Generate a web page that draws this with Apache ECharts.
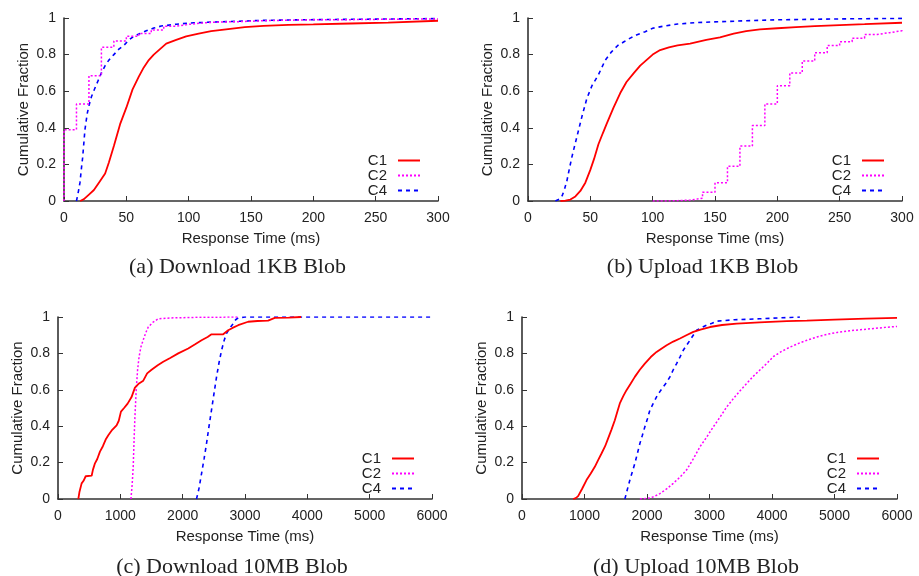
<!DOCTYPE html>
<html>
<head>
<meta charset="utf-8">
<script src="https://cdn.jsdelivr.net/npm/echarts@6/dist/echarts.min.js"></script>
<style>html,body{margin:0;padding:0;background:#fff}#c{width:919px;height:576px}</style>
</head>
<body>
<div id="c"></div>
<script>
// ---- Data (x = response time in ms, y = cumulative fraction) ----
const seriesNames = ['C1', 'C2', 'C4'];
const panelTitles = ['(a) Download 1KB Blob', '(b) Upload 1KB Blob', '(c) Download 10MB Blob', '(d) Upload 10MB Blob'];
const yTicks = [0, 0.2, 0.4, 0.6, 0.8, 1];
const xTicksSmall = [0, 50, 100, 150, 200, 250, 300];
const xTicksLarge = [0, 1000, 2000, 3000, 4000, 5000, 6000];

// (a) Download 1KB
const dl1kC1 = [[13,0],[16,0.01],[20,0.035],[24,0.06],[28,0.1],[33,0.15],[36,0.21],[40,0.3],[45,0.42],[50,0.51],[55,0.61],[60,0.68],[64,0.73],[68,0.77],[72,0.8],[77,0.83],[82,0.86],[90,0.88],[98,0.9],[108,0.915],[118,0.928],[130,0.938],[145,0.95],[160,0.957],[180,0.962],[200,0.965],[230,0.97],[260,0.975],[300,0.985]];
const dl1kC2 = [[0,0],[0,0.39],[10,0.53],[20,0.685],[30,0.84],[40,0.875],[50,0.9],[60,0.915],[70,0.935],[80,0.955],[90,0.965],[100,0.972],[110,0.977],[120,0.98],[140,0.985],[160,0.988],[180,0.99],[200,0.991],[230,0.993],[260,0.995],[300,0.997]];
const dl1kC4 = [[10,0],[11.5,0.05],[12.8,0.1],[14,0.18],[15,0.24],[16.8,0.39],[18.7,0.48],[20,0.52],[22,0.57],[25,0.62],[27.5,0.66],[30,0.7],[33,0.74],[36,0.77],[40,0.8],[44,0.83],[48,0.85],[52,0.88],[56,0.9],[61,0.915],[66,0.93],[72,0.945],[78,0.956],[90,0.966],[104,0.974],[130,0.98],[160,0.987],[200,0.991],[250,0.994],[300,0.997]];

// (b) Upload 1KB
const ul1kC1 = [[26,0],[30,0.002],[34,0.008],[38,0.025],[42,0.055],[46,0.1],[50,0.17],[53,0.23],[56.5,0.31],[60,0.37],[63,0.42],[68.6,0.51],[74,0.59],[79,0.65],[85,0.7],[90,0.74],[95,0.77],[100,0.8],[106,0.825],[113,0.84],[120,0.85],[130,0.86],[143,0.88],[154,0.894],[165,0.915],[175,0.928],[186,0.938],[200,0.944],[215,0.95],[230,0.956],[250,0.961],[270,0.966],[300,0.974]];
const ul1kC2 = [[100,0],[110,0.002],[120,0.005],[130,0.015],[140,0.048],[150,0.1],[160,0.19],[170,0.3],[180,0.412],[190,0.53],[200,0.63],[210,0.7],[220,0.765],[230,0.81],[240,0.85],[250,0.87],[260,0.89],[270,0.91],[280,0.92],[290,0.93],[300,0.935]];
const ul1kC4 = [[22,0],[25,0.01],[27.5,0.03],[29.5,0.07],[31.2,0.11],[33,0.17],[35.2,0.24],[37,0.29],[39.2,0.35],[43.2,0.46],[47.2,0.56],[51.3,0.63],[56.5,0.69],[62,0.77],[67,0.815],[72,0.85],[77,0.87],[82,0.89],[87,0.907],[94,0.925],[100,0.944],[110,0.957],[120,0.967],[135,0.975],[155,0.98],[175,0.985],[200,0.99],[250,0.995],[300,0.998]];

// (c) Download 10MB
const dl10mC1 = [[326,0],[345,0.04],[379,0.086],[410,0.1],[444,0.125],[540,0.128],[560,0.16],[593,0.196],[630,0.22],[673,0.26],[720,0.29],[770,0.33],[807,0.35],[870,0.38],[940,0.405],[975,0.43],[1010,0.48],[1060,0.5],[1117,0.524],[1180,0.56],[1234,0.612],[1300,0.635],[1368,0.65],[1430,0.69],[1501,0.71],[1600,0.735],[1688,0.754],[1800,0.775],[1929,0.8],[2089,0.827],[2200,0.85],[2303,0.872],[2400,0.89],[2463,0.905],[2650,0.905],[2730,0.927],[2800,0.94],[2891,0.955],[3050,0.974],[3200,0.978],[3371,0.98],[3478,0.995],[3700,0.997],[3900,1.0]];
const dl10mC2 = [[1170,0],[1190,0.08],[1207,0.18],[1220,0.32],[1234,0.45],[1255,0.6],[1277,0.71],[1300,0.78],[1330,0.835],[1368,0.875],[1410,0.915],[1448,0.945],[1520,0.97],[1608,0.99],[1822,0.995],[2200,0.998],[2900,1.0]];
const dl10mC4 = [[2222,0],[2263,0.06],[2303,0.14],[2343,0.22],[2383,0.305],[2423,0.4],[2463,0.49],[2503,0.58],[2543,0.67],[2584,0.75],[2624,0.817],[2664,0.87],[2704,0.91],[2760,0.94],[2811,0.964],[2850,0.985],[2891,0.995],[3000,1.0],[6000,1.0]];

// (d) Upload 10MB
const ul10mC1 = [[818,0],[860,0.005],[898,0.016],[960,0.055],[1032,0.104],[1100,0.14],[1165,0.177],[1220,0.215],[1272,0.25],[1330,0.29],[1378,0.333],[1430,0.38],[1485,0.433],[1525,0.48],[1565,0.525],[1620,0.565],[1672,0.598],[1740,0.635],[1805,0.671],[1885,0.71],[1965,0.744],[2060,0.78],[2153,0.808],[2230,0.826],[2314,0.845],[2420,0.865],[2527,0.882],[2630,0.9],[2741,0.918],[2870,0.932],[3008,0.945],[3200,0.956],[3436,0.964],[3800,0.971],[4237,0.977],[4558,0.98],[5000,0.986],[5500,0.991],[6000,0.995]];
const ul10mC2 = [[1886,0],[2046,0.005],[2126,0.015],[2206,0.03],[2313,0.055],[2420,0.086],[2527,0.12],[2634,0.16],[2740,0.22],[2848,0.287],[2955,0.34],[3062,0.397],[3169,0.45],[3276,0.506],[3383,0.552],[3489,0.595],[3596,0.635],[3703,0.675],[3810,0.71],[3917,0.745],[4024,0.783],[4158,0.812],[4292,0.835],[4425,0.855],[4558,0.872],[4718,0.89],[4879,0.905],[5040,0.915],[5200,0.923],[5413,0.93],[5627,0.937],[5813,0.943],[6000,0.948]];
const ul10mC4 = [[1646,0],[1680,0.045],[1726,0.104],[1766,0.15],[1806,0.196],[1846,0.25],[1886,0.305],[1926,0.35],[1966,0.397],[2006,0.44],[2046,0.488],[2100,0.525],[2153,0.561],[2206,0.59],[2260,0.616],[2313,0.64],[2367,0.671],[2420,0.71],[2474,0.744],[2527,0.78],[2580,0.817],[2634,0.845],[2687,0.872],[2740,0.9],[2794,0.927],[2875,0.942],[2955,0.955],[3040,0.966],[3115,0.977],[3400,0.985],[3800,0.99],[4100,0.995],[4447,1.0]];

const panelData = [
  [dl1kC1, dl1kC2, dl1kC4],
  [ul1kC1, ul1kC2, ul1kC4],
  [dl10mC1, dl10mC2, dl10mC4],
  [ul10mC1, ul10mC2, ul10mC4]
];
const panelStep = [[false, 'end', false], [false, 'end', false], [false, false, false], [false, false, false]];
const panelXTicks = [xTicksSmall, xTicksSmall, xTicksLarge, xTicksLarge];

// ---- Layout / style ----
const grids = [
  {left: 64, top: 18, width: 374, height: 183},
  {left: 528, top: 18, width: 374, height: 183},
  {left: 58, top: 317, width: 374, height: 182},
  {left: 522, top: 317, width: 375, height: 182}
];
const titleCenters = [[237.5, 256], [702.5, 256], [232, 556], [696, 556]];
const seriesColors = ['#ff0000', '#ff00ff', '#0000ff'];
const seriesDash = ['solid', [2, 2], [4, 4]];
const seriesWidth = [1.8, 1.5, 1.6];
const axisColor = '#333';
const textColor = '#222';
const sans = 'Liberation Sans, Arial, sans-serif';

const option = {
  animation: false,
  backgroundColor: '#fff',
  title: [], grid: [], xAxis: [], yAxis: [], series: [], legend: []
};

grids.forEach((g, i) => {
  option.grid.push(Object.assign({containLabel: false}, g));
  const xt = panelXTicks[i];
  option.xAxis.push({
    type: 'value', gridIndex: i,
    min: xt[0], max: xt[xt.length - 1], interval: xt[1] - xt[0],
    name: 'Response Time (ms)', nameLocation: 'middle', nameGap: 30,
    nameTextStyle: {fontFamily: sans, fontSize: 15, color: textColor},
    axisLine: {show: true, onZero: false, lineStyle: {color: axisColor, width: 1.6}},
    axisTick: {show: true, inside: true, length: 5, lineStyle: {color: axisColor, width: 1}},
    axisLabel: {fontFamily: sans, fontSize: 14, color: textColor, margin: 10, formatter: v => String(v)},
    splitLine: {show: false}
  });
  option.yAxis.push({
    type: 'value', gridIndex: i,
    min: yTicks[0], max: yTicks[yTicks.length - 1], interval: yTicks[1] - yTicks[0],
    name: 'Cumulative Fraction', nameLocation: 'middle', nameGap: 33, nameRotate: 90,
    nameTextStyle: {fontFamily: sans, fontSize: 15, color: textColor},
    axisLine: {show: true, onZero: false, lineStyle: {color: axisColor, width: 1.6}},
    axisTick: {show: true, inside: true, length: 5, lineStyle: {color: axisColor, width: 1}},
    axisLabel: {fontFamily: sans, fontSize: 14, color: textColor, margin: 8, formatter: v => String(v)},
    splitLine: {show: false}
  });
  option.title.push({
    text: panelTitles[i], left: titleCenters[i][0], top: titleCenters[i][1],
    textAlign: 'center', padding: 0,
    textStyle: {fontFamily: 'Liberation Serif, Times New Roman, serif', fontSize: 22, fontWeight: 'normal', color: textColor}
  });
  option.legend.push({
    data: seriesNames, orient: 'vertical', align: 'right',
    right: 919 - (g.left + g.width - 17), top: g.top + g.height - 48,
    padding: 0, itemGap: 0, itemWidth: 22, itemHeight: 10,
    itemStyle: {opacity: 0},
    textStyle: {fontFamily: sans, fontSize: 15, color: textColor, lineHeight: 15, padding: [0, 6, 0, 0]},
    selectedMode: false
  });
  panelData[i].forEach((d, k) => {
    option.series.push({
      type: 'line', name: seriesNames[k], xAxisIndex: i, yAxisIndex: i,
      data: d, symbol: 'none', step: panelStep[i][k], smooth: false,
      lineStyle: {color: seriesColors[k], width: seriesWidth[k], type: seriesDash[k]},
      itemStyle: {color: seriesColors[k]},
      clip: true, z: 3 - k
    });
  });
});

const chart = echarts.init(document.getElementById('c'), null, {renderer: 'canvas'});
chart.setOption(option);
</script>
</body>
</html>
